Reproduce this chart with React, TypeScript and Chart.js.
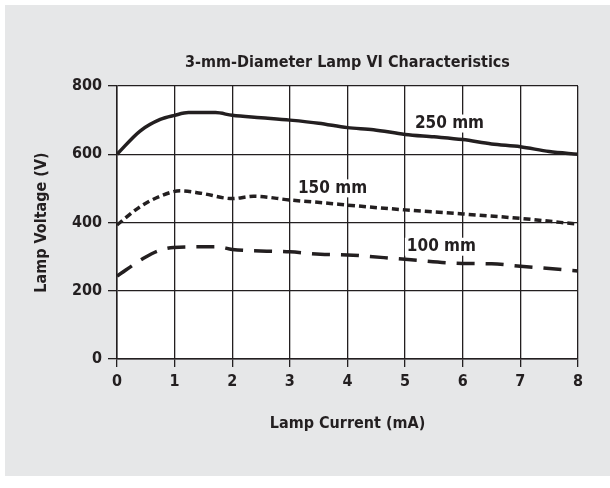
import React, { useEffect, useRef } from "react";
import { Chart, registerables } from "chart.js";

Chart.register(...registerables);

const chartTitle = "3-mm-Diameter Lamp VI Characteristics";
const xAxisTitle = "Lamp Current (mA)";
const yAxisTitle = "Lamp Voltage (V)";

const current250 = [0, 0.4, 0.75, 1.0, 1.24, 1.71, 2.0, 2.5, 3.0, 3.5, 4.0, 4.45, 5.0, 5.5, 6.0, 6.5, 7.0, 7.5, 8.0];
const voltage250 = [600, 668, 702, 714, 722, 722, 714, 707, 700, 691, 678, 672, 658, 651, 643, 630, 622, 608, 600];

const current150 = [0, 0.4, 0.75, 1.1, 1.45, 2.0, 2.37, 3.0, 3.7, 4.0, 5.0, 6.0, 7.0, 8.0];
const voltage150 = [393, 446, 477, 493, 486, 470, 477, 466, 456, 451, 437, 425, 412, 395];

const current100 = [0, 0.46, 0.7, 0.98, 1.74, 2.0, 3.0, 3.53, 4.0, 5.0, 6.0, 6.5, 7.0, 8.0];
const voltage100 = [243, 295, 316, 327, 329, 321, 314, 307, 305, 292, 280, 279, 272, 258];

const seriesNames = ["250 mm", "150 mm", "100 mm"];
const labelCurrent = [5.77, 3.74, 5.63];
const labelVoltage = [690, 500, 329];

const INK = "#231f20";
const FONT = "'Liberation Sans Narrow', 'DejaVu Sans Condensed', 'Arial Narrow', sans-serif";

const toPoints = (xs: number[], ys: number[]) => xs.map((x, i) => ({ x, y: ys[i] }));

const plotBg = {
  id: "plotBg",
  beforeDraw(chart: any) {
    const { ctx, chartArea } = chart;
    ctx.save();
    ctx.fillStyle = "#ffffff";
    ctx.fillRect(chartArea.left, chartArea.top, chartArea.right - chartArea.left, chartArea.bottom - chartArea.top);
    ctx.restore();
  },
};

const textPlugin = {
  id: "texts",
  afterDraw(chart: any) {
    const { ctx, chartArea, scales } = chart;
    ctx.save();
    ctx.fillStyle = INK;
    ctx.font = `bold 16px ${FONT}`;
    ctx.textAlign = "center";
    ctx.textBaseline = "middle";
    ctx.fillText(chartTitle, (chartArea.left + chartArea.right) / 2, chartArea.top - 23);

    ctx.font = `bold 17px ${FONT}`;
    seriesNames.forEach((name, i) => {
      const px = scales.x.getPixelForValue(labelCurrent[i]);
      const py = scales.y.getPixelForValue(labelVoltage[i]);
      const w = ctx.measureText(name).width;
      ctx.fillStyle = "#ffffff";
      ctx.fillRect(px - w / 2 - 2, py - 9, w + 4, 18);
      ctx.fillStyle = INK;
      ctx.fillText(name, px, py);
    });
    ctx.restore();
  },
};

export default function App() {
  const ref = useRef<HTMLCanvasElement | null>(null);

  useEffect(() => {
    document.body.style.margin = "0";
    const canvas = ref.current;
    if (!canvas) return;
    const lineBase = {
      borderColor: INK,
      borderWidth: 3.5,
      pointRadius: 0,
      fill: false,
      cubicInterpolationMode: "monotone" as const,
      borderCapStyle: "butt" as const,
    };
    const chart = new Chart(canvas, {
      type: "line",
      data: {
        datasets: [
          { ...lineBase, label: seriesNames[0], data: toPoints(current250, voltage250) },
          { ...lineBase, label: seriesNames[1], data: toPoints(current150, voltage150), borderDash: [7, 4] },
          { ...lineBase, label: seriesNames[2], data: toPoints(current100, voltage100), borderDash: [18, 11] },
        ],
      },
      options: {
        animation: false,
        responsive: false,
        devicePixelRatio: 1,
        layout: { padding: { left: 0, top: 86, right: 32, bottom: 0 } },
        plugins: { legend: { display: false }, tooltip: { enabled: false }, title: { display: false } },
        scales: {
          x: {
            type: "linear",
            min: 0,
            max: 8,
            afterFit(scale: any) {
              scale.height = 129;
            },
            ticks: { stepSize: 1, color: INK, padding: 5, font: { family: FONT, size: 16, weight: "bold" } },
            grid: { color: INK, lineWidth: 1.3, tickLength: 8, tickColor: INK },
            border: { display: true, color: INK, width: 1.5 },
            title: {
              display: true,
              text: xAxisTitle,
              color: INK,
              font: { family: FONT, size: 16, weight: "bold" },
              padding: { top: 0, bottom: 55 },
            },
          },
          y: {
            min: 0,
            max: 800,
            afterFit(scale: any) {
              scale.width = 117;
            },
            ticks: { stepSize: 200, color: INK, padding: 6, font: { family: FONT, size: 16, weight: "bold" } },
            grid: { color: INK, lineWidth: 1.3, tickLength: 9, tickColor: INK },
            border: { display: true, color: INK, width: 1.5 },
            title: {
              display: true,
              text: yAxisTitle,
              color: INK,
              font: { family: FONT, size: 16, weight: "bold" },
              padding: { top: 32, bottom: 0 },
            },
          },
        },
      },
      plugins: [plotBg, textPlugin],
    });
    return () => chart.destroy();
  }, []);

  return (
    <div style={{ position: "relative", width: 610, height: 488, background: "#ffffff" }}>
      <div style={{ position: "absolute", left: 5, top: 5, width: 605, height: 471, background: "#e6e7e8" }} />
      <canvas ref={ref} width={610} height={488} style={{ position: "absolute", left: 0, top: 0 }} />
    </div>
  );
}
